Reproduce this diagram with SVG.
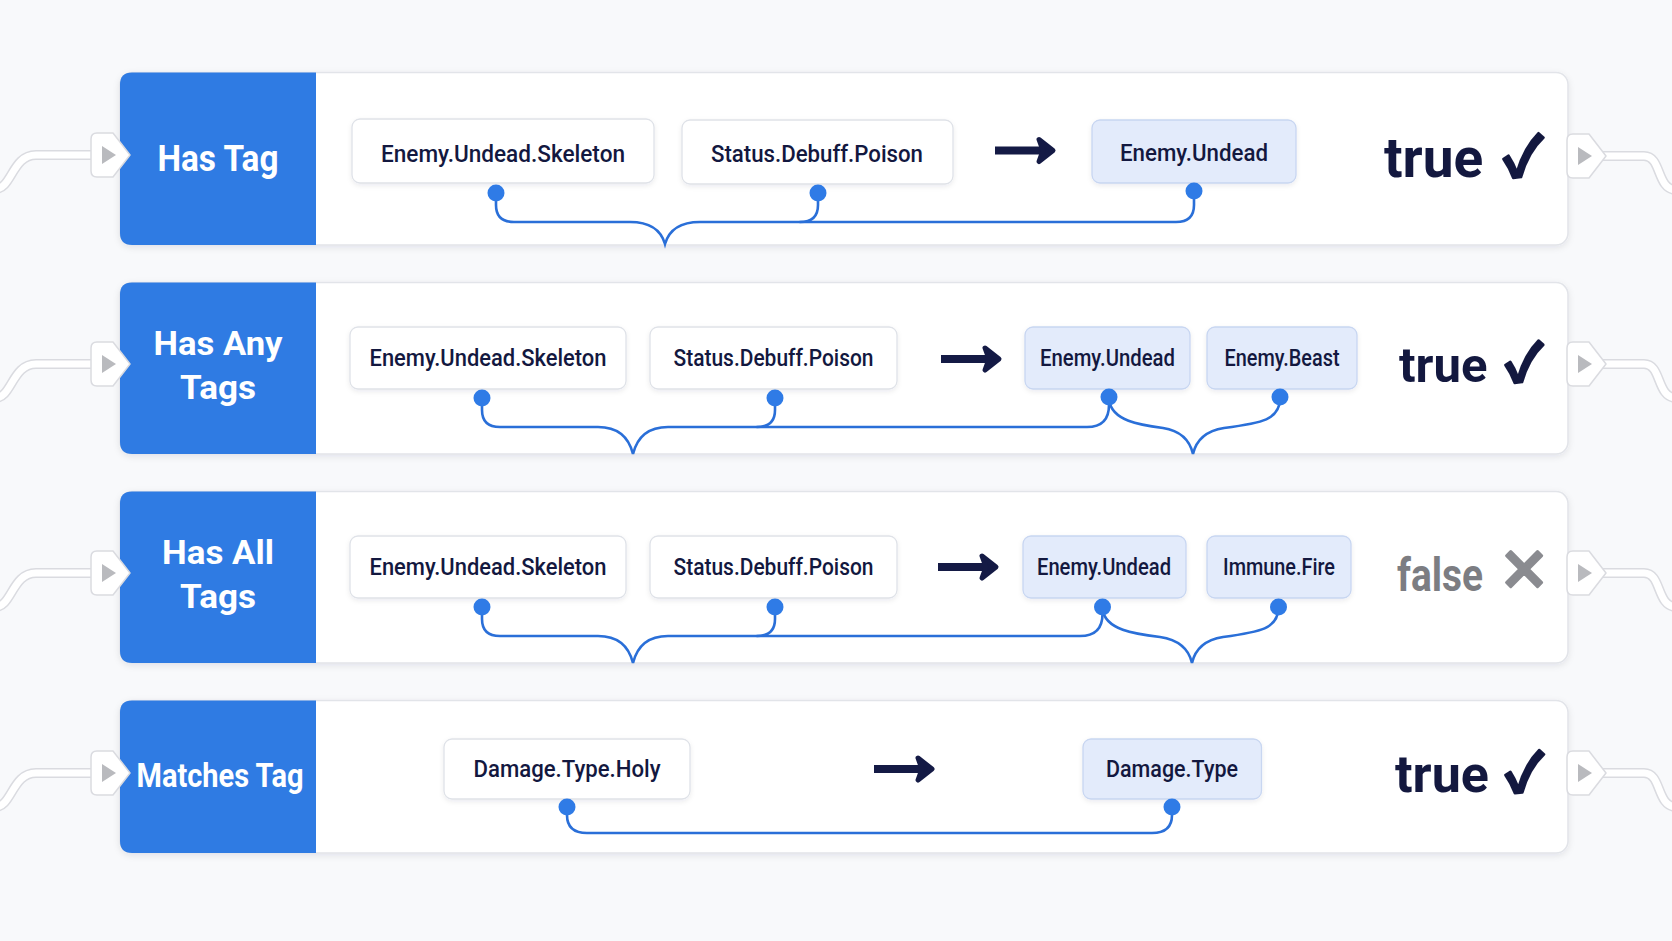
<svg xmlns="http://www.w3.org/2000/svg" xmlns:xlink="http://www.w3.org/1999/xlink" width="1672" height="941" viewBox="0 0 1672 941">
<defs>
<style>
.card{fill:#ffffff;stroke:#e2e4e9;stroke-width:1.5}
.head{fill:#2f7be3}
.htxt{font-family:Roboto,"Liberation Sans",sans-serif;font-weight:700;fill:#ffffff;text-anchor:middle}
.tag{fill:#ffffff;stroke:#dfe2e8;stroke-width:1.3}
.res{fill:#e3ebfb;stroke:#c8d6f1;stroke-width:1.3}
.ttxt{font-family:Roboto,"Liberation Sans",sans-serif;font-weight:500;fill:#13183f;text-anchor:middle}
.big{font-family:Roboto,"Liberation Sans",sans-serif;font-weight:700;fill:#13183f}
.chk{font-family:"Noto Sans CJK SC","DejaVu Sans",sans-serif;font-weight:700;fill:#13183f;stroke:#13183f;stroke-width:2.5;stroke-linejoin:round;stroke-linecap:round}
.fal{font-family:Roboto,"Liberation Sans",sans-serif;font-weight:700;fill:#7c7d82}
.xm{font-family:"Noto Sans CJK SC","DejaVu Sans",sans-serif;font-weight:700;fill:#8a8b90;stroke:#8a8b90;stroke-width:3;stroke-linejoin:round;stroke-linecap:round}
.shaft{fill:none;stroke:#141a45;stroke-width:8}
.ahead{fill:#141a45;stroke:#141a45;stroke-width:5;stroke-linejoin:round}
.brace{fill:none;stroke:#2a6fd8;stroke-width:2.6;stroke-linecap:round}
.dot{fill:#2f7be6}
.wo{fill:none;stroke:#dadbe0;stroke-width:10;stroke-linecap:butt}
.wi{fill:none;stroke:#ffffff;stroke-width:7;stroke-linecap:butt}
</style>
<filter id="sh" x="-10%" y="-20%" width="120%" height="150%">
<feDropShadow dx="0" dy="2" stdDeviation="3" flood-color="#1a2340" flood-opacity="0.09"/>
</filter>
<filter id="sh2" x="-10%" y="-30%" width="120%" height="170%">
<feDropShadow dx="0" dy="2" stdDeviation="2.5" flood-color="#1a2340" flood-opacity="0.08"/>
</filter>
<g id="port">
<path d="M6 -22 H22 L39 0 L22 22 H6 Q0 22 0 16 V-16 Q0 -22 6 -22 Z" fill="#ffffff" stroke="#dadbe0" stroke-width="1.5" stroke-linejoin="round"/>
<path d="M11 -9 L25 0 L11 9 Z" fill="#b9babe"/>
</g>
<g id="arrow">
<path class="shaft" d="M0 0 H50"/>
<path class="ahead" d="M44 -11 L58 0 L44 11 L48 0 Z"/>
</g>
</defs>
<rect width="1672" height="941" fill="#f8f9fb"/>

<g id="connectors">
<path class="wo" d="M-5 189 C12 189 12 155 36 155 H96"/><path class="wi" d="M-5 189 C12 189 12 155 36 155 H96"/>
<path class="wo" d="M1600 156 H1644 C1662 156 1656 189 1676 190"/><path class="wi" d="M1600 156 H1644 C1662 156 1656 189 1676 190"/>
<path class="wo" d="M-5 398 C12 398 12 364 36 364 H96"/><path class="wi" d="M-5 398 C12 398 12 364 36 364 H96"/>
<path class="wo" d="M1600 364 H1644 C1662 364 1656 397 1676 398"/><path class="wi" d="M1600 364 H1644 C1662 364 1656 397 1676 398"/>
<path class="wo" d="M-5 607 C12 607 12 573 36 573 H96"/><path class="wi" d="M-5 607 C12 607 12 573 36 573 H96"/>
<path class="wo" d="M1600 573 H1644 C1662 573 1656 606 1676 607"/><path class="wi" d="M1600 573 H1644 C1662 573 1656 606 1676 607"/>
<path class="wo" d="M-5 807 C12 807 12 773 36 773 H96"/><path class="wi" d="M-5 807 C12 807 12 773 36 773 H96"/>
<path class="wo" d="M1600 773 H1644 C1662 773 1656 806 1676 807"/><path class="wi" d="M1600 773 H1644 C1662 773 1656 806 1676 807"/>
</g>

<g id="row-has-tag">
<rect class="card" x="120" y="72.5" width="1448" height="172.5" rx="12" filter="url(#sh)"/>
<path class="head" d="M132 72.5 H316 V245 H132 Q120 245 120 233 V84.5 Q120 72.5 132 72.5 Z"/>
<text class="htxt" x="218" y="171" font-size="37" textLength="121" lengthAdjust="spacingAndGlyphs">Has Tag</text>
<g id="r1-tag1"><rect class="tag" x="352" y="119" width="302" height="64" rx="8" filter="url(#sh2)"/><text class="ttxt" x="503" y="162" font-size="24" textLength="244" lengthAdjust="spacingAndGlyphs">Enemy.Undead.Skeleton</text></g>
<g id="r1-tag2"><rect class="tag" x="682" y="120" width="271" height="64" rx="8" filter="url(#sh2)"/><text class="ttxt" x="817" y="162" font-size="24" textLength="212" lengthAdjust="spacingAndGlyphs">Status.Debuff.Poison</text></g>
<use href="#arrow" x="995" y="150.5"/>
<g id="r1-res1"><rect class="res" x="1092" y="120" width="204" height="63" rx="8" filter="url(#sh2)"/><text class="ttxt" x="1194" y="161" font-size="24" textLength="148" lengthAdjust="spacingAndGlyphs">Enemy.Undead</text></g>
<text y="177"><tspan class="big" x="1384" font-size="55">true</tspan> <tspan class="chk" x="1503" font-size="56">✓</tspan></text>
<use href="#port" x="91" y="155"/>
<use href="#port" x="1567" y="156"/>
</g>

<g id="row-has-any-tags">
<rect class="card" x="120" y="282.6" width="1448" height="171.4" rx="12" filter="url(#sh)"/>
<path class="head" d="M132 282.6 H316 V454 H132 Q120 454 120 442 V294.6 Q120 282.6 132 282.6 Z"/>
<text class="htxt" x="218" y="355" font-size="34" textLength="129" lengthAdjust="spacingAndGlyphs">Has Any</text>
<text class="htxt" x="218" y="399" font-size="34" textLength="76" lengthAdjust="spacingAndGlyphs">Tags</text>
<g id="r2-tag1"><rect class="tag" x="350" y="327" width="276" height="62" rx="8" filter="url(#sh2)"/><text class="ttxt" x="488" y="366" font-size="23" textLength="237" lengthAdjust="spacingAndGlyphs">Enemy.Undead.Skeleton</text></g>
<g id="r2-tag2"><rect class="tag" x="650" y="327" width="247" height="62" rx="8" filter="url(#sh2)"/><text class="ttxt" x="773.5" y="366" font-size="23" textLength="200" lengthAdjust="spacingAndGlyphs">Status.Debuff.Poison</text></g>
<use href="#arrow" x="941" y="359"/>
<g id="r2-res1"><rect class="res" x="1025" y="327" width="165" height="62" rx="8" filter="url(#sh2)"/><text class="ttxt" x="1107.5" y="366" font-size="23" textLength="135" lengthAdjust="spacingAndGlyphs">Enemy.Undead</text></g>
<g id="r2-res2"><rect class="res" x="1207" y="327" width="150" height="62" rx="8" filter="url(#sh2)"/><text class="ttxt" x="1282" y="366" font-size="23" textLength="115" lengthAdjust="spacingAndGlyphs">Enemy.Beast</text></g>
<text y="382"><tspan class="big" x="1399" font-size="49">true</tspan> <tspan class="chk" x="1505" font-size="53">✓</tspan></text>
<use href="#port" x="91" y="364"/>
<use href="#port" x="1567" y="364"/>
</g>

<g id="row-has-all-tags">
<rect class="card" x="120" y="491.6" width="1448" height="171.4" rx="12" filter="url(#sh)"/>
<path class="head" d="M132 491.6 H316 V663 H132 Q120 663 120 651 V503.6 Q120 491.6 132 491.6 Z"/>
<text class="htxt" x="218" y="564" font-size="34" textLength="112" lengthAdjust="spacingAndGlyphs">Has All</text>
<text class="htxt" x="218" y="608" font-size="34" textLength="76" lengthAdjust="spacingAndGlyphs">Tags</text>
<g id="r3-tag1"><rect class="tag" x="350" y="536" width="276" height="62" rx="8" filter="url(#sh2)"/><text class="ttxt" x="488" y="575" font-size="23" textLength="237" lengthAdjust="spacingAndGlyphs">Enemy.Undead.Skeleton</text></g>
<g id="r3-tag2"><rect class="tag" x="650" y="536" width="247" height="62" rx="8" filter="url(#sh2)"/><text class="ttxt" x="773.5" y="575" font-size="23" textLength="200" lengthAdjust="spacingAndGlyphs">Status.Debuff.Poison</text></g>
<use href="#arrow" x="938" y="567"/>
<g id="r3-res1"><rect class="res" x="1023" y="536" width="163" height="62" rx="8" filter="url(#sh2)"/><text class="ttxt" x="1104" y="575" font-size="23" textLength="134" lengthAdjust="spacingAndGlyphs">Enemy.Undead</text></g>
<g id="r3-res2"><rect class="res" x="1207" y="536" width="144" height="62" rx="8" filter="url(#sh2)"/><text class="ttxt" x="1279" y="575" font-size="23" textLength="112" lengthAdjust="spacingAndGlyphs">Immune.Fire</text></g>
<text y="594"><tspan class="fal" x="1397" font-size="46" textLength="86" lengthAdjust="spacingAndGlyphs" y="591">false</tspan> <tspan class="xm" x="1499" font-size="60">✕</tspan></text>
<use href="#port" x="91" y="573"/>
<use href="#port" x="1567" y="573"/>
</g>

<g id="row-matches-tag">
<rect class="card" x="120" y="700.5" width="1448" height="152.5" rx="12" filter="url(#sh)"/>
<path class="head" d="M132 700.5 H316 V853 H132 Q120 853 120 841 V712.5 Q120 700.5 132 700.5 Z"/>
<text class="htxt" x="220" y="787" font-size="33" textLength="167" lengthAdjust="spacingAndGlyphs">Matches Tag</text>
<g id="r4-tag1"><rect class="tag" x="444" y="739" width="246" height="60" rx="8" filter="url(#sh2)"/><text class="ttxt" x="567" y="777" font-size="23" textLength="187" lengthAdjust="spacingAndGlyphs">Damage.Type.Holy</text></g>
<use href="#arrow" x="874" y="769"/>
<g id="r4-res1"><rect class="res" x="1083" y="739" width="178.5" height="60" rx="8" filter="url(#sh2)"/><text class="ttxt" x="1172" y="777" font-size="23" textLength="132" lengthAdjust="spacingAndGlyphs">Damage.Type</text></g>
<text y="792"><tspan class="big" x="1395" font-size="52">true</tspan> <tspan class="chk" x="1505" font-size="54">✓</tspan></text>
<use href="#port" x="91" y="773"/>
<use href="#port" x="1567" y="773"/>
</g>

<g id="brace-connectors">
<path class="brace" d="M496 193 V205 Q496 222 514 222 H630 C650 222 661 230 665 244 C669 230 680 222 700 222 H1176 Q1194 222 1194 205 V191"/>
<path class="brace" d="M818 193 V205 Q818 222 800 222"/>
<circle class="dot" cx="496" cy="193" r="8.5"/>
<circle class="dot" cx="818" cy="193" r="8.5"/>
<circle class="dot" cx="1194" cy="191" r="8.5"/>

<path class="brace" d="M482 398 V410 Q482 427 500 427 H598 C618 427 629 438 633 454 C637 438 648 427 668 427 H1087 Q1109 427 1109 405 V398"/>
<path class="brace" d="M775 398 V410 Q775 427 757 427"/>
<path class="brace" d="M1109 400 C1112 421 1140 425 1163 428 C1182 431 1190 441 1193 454 C1196 441 1205 431 1224 428 C1262 423 1280 420 1280 398"/>
<circle class="dot" cx="482" cy="398" r="8.5"/>
<circle class="dot" cx="775" cy="398" r="8.5"/>
<circle class="dot" cx="1109" cy="397" r="8.5"/>
<circle class="dot" cx="1280" cy="397" r="8.5"/>

<path class="brace" d="M482 607 V619 Q482 636 500 636 H598 C618 636 629 647 633 663 C637 647 648 636 668 636 H1080 Q1102.5 636 1102.5 614 V607"/>
<path class="brace" d="M775 607 V619 Q775 636 757 636"/>
<path class="brace" d="M1102.5 609 C1105 630 1135 634 1160 637 C1180 640 1189 650 1192 663 C1195 650 1204 640 1223 637 C1260 632 1278.5 629 1278.5 607"/>
<circle class="dot" cx="482" cy="607" r="8.5"/>
<circle class="dot" cx="775" cy="607" r="8.5"/>
<circle class="dot" cx="1102.5" cy="607" r="8.5"/>
<circle class="dot" cx="1278.5" cy="607" r="8.5"/>

<path class="brace" d="M567 807 V815 Q567 833 587 833 H1152 Q1172 833 1172 815 V807"/>
<circle class="dot" cx="567" cy="807" r="8.5"/>
<circle class="dot" cx="1172" cy="807" r="8.5"/>
</g>
</svg>
